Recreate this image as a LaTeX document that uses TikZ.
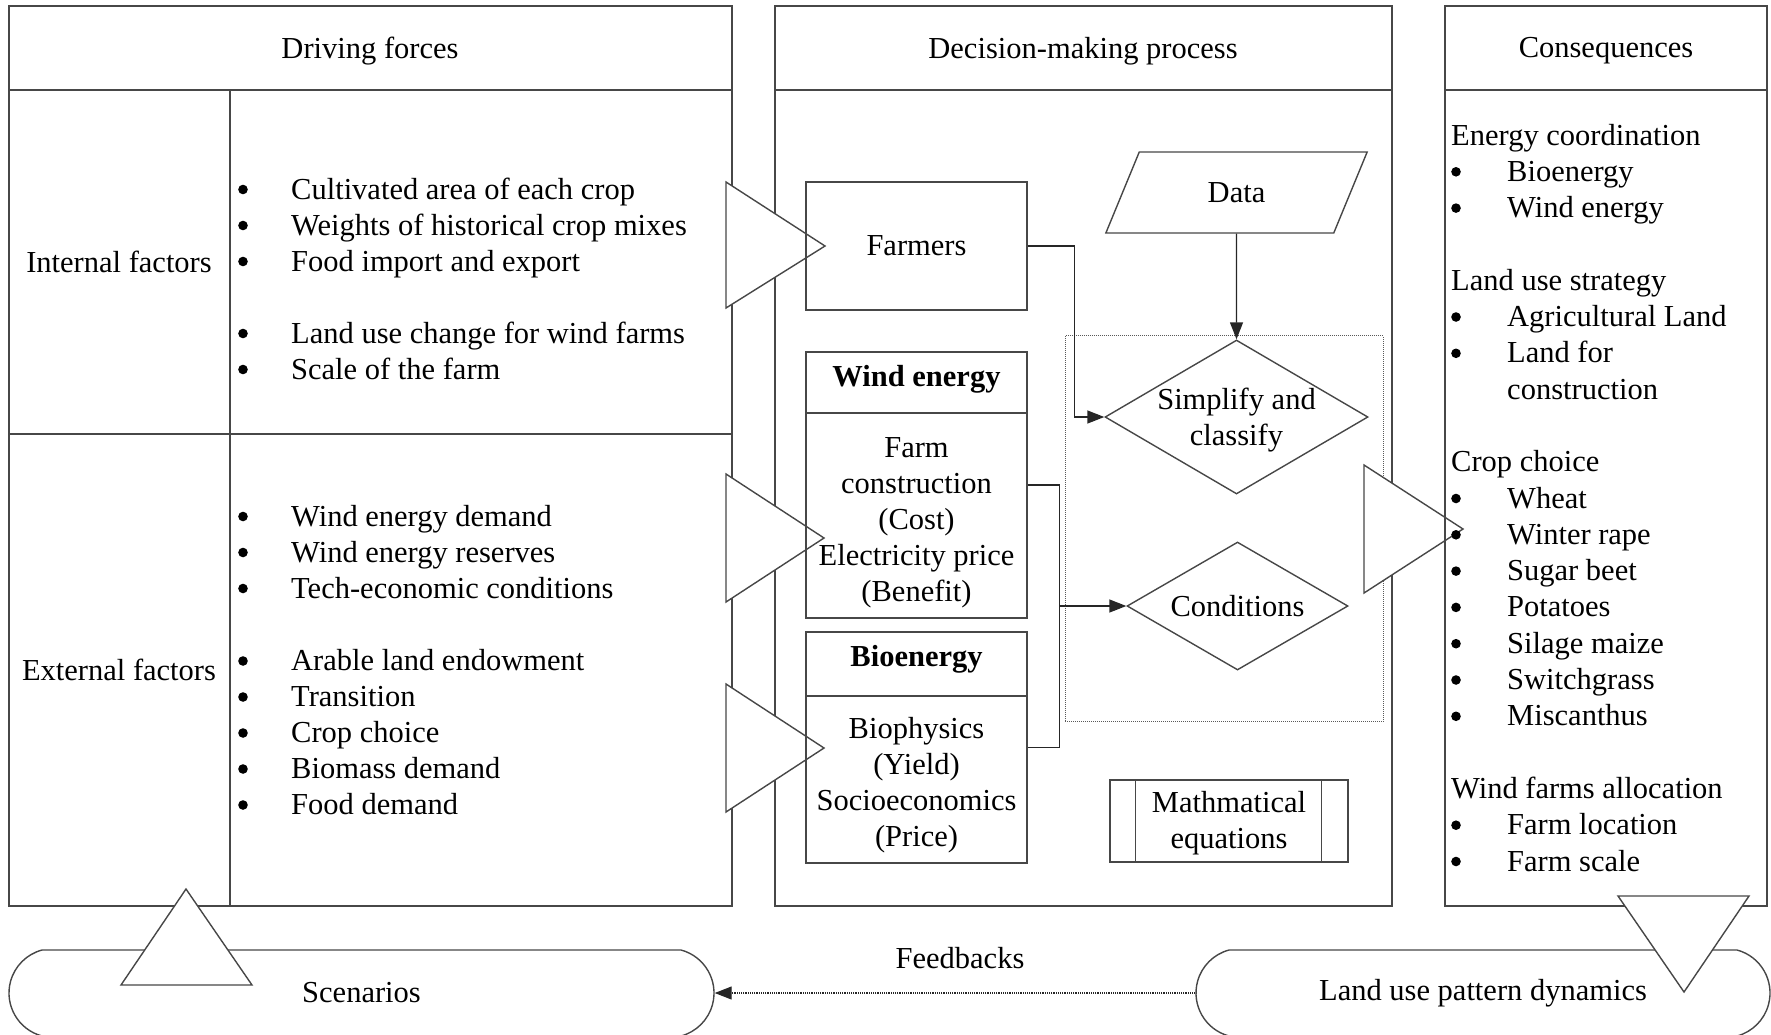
\documentclass[tikz,border=0pt]{standalone}
\usepackage{fontspec}
\setmainfont{Liberation Serif}
\usetikzlibrary{shapes.geometric,shapes.misc,arrows.meta}
\newcommand{\bdot}{\tikz[baseline={(0pt,-9.5pt)}]{\fill[black] (4.8pt,0pt) circle (4.8pt);}}
\begin{document}
\begin{tikzpicture}[x=1pt,y=-1pt,
  every node/.style={font=\fontsize{30.5}{36}\selectfont, text=black},
  hdr/.style={font=\fontsize{30.5}{36}\selectfont\bfseries},
  ln/.style={draw=black!72, line width=1.4pt},
  panel/.style={ln, rectangle, inner sep=0pt},
  box/.style={ln, rectangle, inner sep=0pt},
  bigtri/.style={ln, fill=white, line join=miter},
  conn/.style={draw=black!85, line width=1.4pt},
  arr/.style={conn, -{Triangle[length=17pt,width=13pt]}},
  stad/.style={ln, rounded rectangle, rounded rectangle arc length=150, inner sep=0pt, minimum height=86pt},
]
\useasboundingbox (0,0) rectangle (1771,1034);
\clip (0,0) rectangle (1771,1034);

% panels
\node[panel, minimum width=723pt, minimum height=900pt] (drive) at (370.5,456) {};
\node[panel, minimum width=617pt, minimum height=900pt] (dec) at (1083.5,456) {};
\draw[ln] (9,90) -- (732,90);
\draw[ln] (775,90) -- (1392,90);
\draw[ln] (230,90) -- (230,906);
\draw[ln] (9,434) -- (732,434);

% dotted group
\node[draw=black!65, densely dotted, line width=1pt, minimum width=318pt, minimum height=386pt, inner sep=0pt] (grp) at (1224,528.75) {};

% big hollow arrows into decision panel
\draw[bigtri] (726,182) -- (726,308) -- (825,246) -- cycle;
\draw[bigtri] (726,474) -- (726,602) -- (824,538) -- cycle;
\draw[bigtri] (726,684) -- (726,812) -- (824,748) -- cycle;
\draw[bigtri] (1364,465) -- (1364,593) -- (1463,529) -- cycle;

% consequences panel
\node[panel, minimum width=322pt, minimum height=900pt] (cons) at (1606,456) {};
\draw[ln] (1445,90) -- (1767,90);

% titles
\node (tdrive) at (370,51) {Driving forces};
\node (tdec) at (1083,51) {Decision-making process};
\node (tcons) at (1606,51) {Consequences};

% left panel
\node (intf) at (119,262) {Internal factors};
\node (extf) at (119,670) {External factors};
\node[anchor=base west, inner sep=0pt] (intlist) at (238,199) {\begin{tabular}[t]{@{}p{53pt}@{}l@{}}
\bdot & Cultivated area of each crop\\
\bdot & Weights of historical crop mixes\\
\bdot & Food import and export\\[36pt]
\bdot & Land use change for wind farms\\
\bdot & Scale of the farm
\end{tabular}};
\node[anchor=base west, inner sep=0pt] (extlist) at (238,526) {\begin{tabular}[t]{@{}p{53pt}@{}l@{}}
\bdot & Wind energy demand\\
\bdot & Wind energy reserves\\
\bdot & Tech-economic conditions\\[36.5pt]
\bdot & Arable land endowment\\
\bdot & Transition\\
\bdot & Crop choice\\
\bdot & Biomass demand\\
\bdot & Food demand
\end{tabular}};

% decision panel
\node[box, minimum width=221pt, minimum height=128pt] (farmers) at (916.5,246) {Farmers};
\node[box, minimum width=221pt, minimum height=266pt] (wind) at (916.5,485) {};
\draw[ln] (806,413) -- (1027,413);
\node[hdr] (windh) at (916.5,379) {Wind energy};
\node[align=center] (windtxt) at (916.5,523) {Farm\\construction\\(Cost)\\Electricity price\\(Benefit)};
\node[box, minimum width=221pt, minimum height=231pt] (bio) at (916.5,747.5) {};
\draw[ln] (806,696) -- (1027,696);
\node[hdr] (bioh) at (916.5,659) {Bioenergy};
\node[align=center] (biotxt) at (916.5,785) {Biophysics\\(Yield)\\Socioeconomics\\(Price)};

\node[ln, trapezium, trapezium left angle=64, trapezium right angle=116, trapezium stretches=true, minimum width=262pt, minimum height=81pt, inner sep=0pt] (data) at (1236.5,192.5) {Data};
\node[ln, diamond, minimum width=263pt, minimum height=154pt, inner sep=0pt] (simp) at (1236.5,417) {};
\node[align=center] (simptxt) at (1236.5,420.5) {Simplify and\\classify};
\node[ln, diamond, aspect=1.73, minimum width=221pt, minimum height=128pt, inner sep=0pt] (cond) at (1237.5,606) {Conditions};
\node[box, minimum width=238pt, minimum height=82pt] (math) at (1229,821) {};
\node[align=center] (mathtxt) at (1229,823.5) {Mathmatical\\equations};
\draw[ln] ([xshift=26pt]math.north west) -- ([xshift=26pt]math.south west);
\draw[ln] ([xshift=-27pt]math.north east) -- ([xshift=-27pt]math.south east);

% connectors
\draw[arr] (data.south) -- (simp.north);
\draw[arr] (farmers.east) -| ([xshift=-30pt]simp.west) -- (simp.west);
\draw[conn] (wind.east) -| ([xshift=32pt]bio.east) -- (bio.east);
\coordinate (junc) at (1059,606);
\draw[arr] (junc) -- (cond.west);

% consequences list
\node[anchor=base west, inner sep=0pt, font=\fontsize{30.5}{36.3}\selectfont] (conslist) at (1451,145) {\begin{tabular}[t]{@{}p{56pt}@{}l@{}}
\multicolumn{2}{@{}l@{}}{Energy coordination}\\
\bdot & Bioenergy\\
\bdot & Wind energy\\[36.3pt]
\multicolumn{2}{@{}l@{}}{Land use strategy}\\
\bdot & Agricultural Land\\
\bdot & Land for\\
 & construction\\[36.3pt]
\multicolumn{2}{@{}l@{}}{Crop choice}\\
\bdot & Wheat\\
\bdot & Winter rape\\
\bdot & Sugar beet\\
\bdot & Potatoes\\
\bdot & Silage maize\\
\bdot & Switchgrass\\
\bdot & Miscanthus\\[36.3pt]
\multicolumn{2}{@{}l@{}}{Wind farms allocation}\\
\bdot & Farm location\\
\bdot & Farm scale
\end{tabular}};

% bottom
\node[stad, minimum width=705pt] (scen) at (361.5,993) {Scenarios};
\node[stad, minimum width=574pt] (landuse) at (1483,993) {Land use pattern dynamics};
\draw[conn, line width=1.2pt, densely dotted, -{Triangle[length=17pt,width=13pt]}] (landuse.west) -- (scen.east);
\node (fb) at (960,958) {Feedbacks};
\draw[bigtri] (121,985) -- (252,985) -- (186,889) -- cycle;
\draw[bigtri] (1618,896) -- (1749,896) -- (1684,992) -- cycle;
\end{tikzpicture}
\end{document}
